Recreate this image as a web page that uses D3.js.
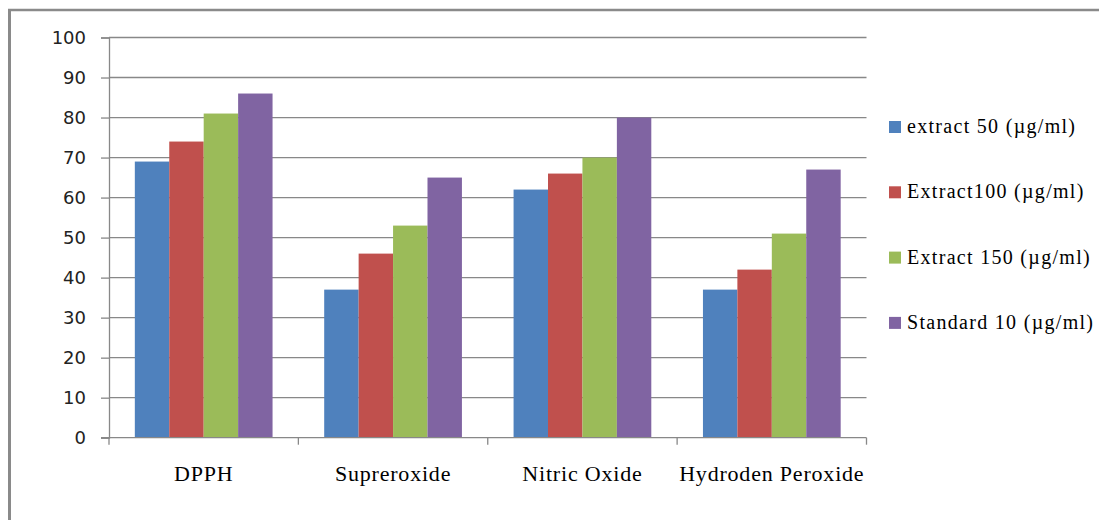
<!DOCTYPE html>
<html><head><meta charset="utf-8">
<script src="https://cdn.jsdelivr.net/npm/d3@7"></script>
<style>body{margin:0;background:#fff}svg{display:block}</style>
</head><body>
<svg id="c" width="1099" height="520"></svg>
<script>
const categories = ["DPPH", "Supreroxide", "Nitric Oxide", "Hydroden Peroxide"];
const seriesNames = ["extract 50 (\u00b5g/ml)", "Extract100 (\u00b5g/ml)", "Extract 150 (\u00b5g/ml)", "Standard 10 (\u00b5g/ml)"];
const extract50 = [69, 37, 62, 37];
const extract100 = [74, 46, 66, 42];
const extract150 = [81, 53, 70, 51];
const standard10 = [86, 65, 80, 67];
const yTicks = [0, 10, 20, 30, 40, 50, 60, 70, 80, 90, 100];
const colors = ["#4F81BD", "#C0504D", "#9BBB59", "#8064A2"];
const series = [extract50, extract100, extract150, standard10];

const svg = d3.select("#c");
const pLeft = 109, pRight = 866.5, pTop = 37.5, pBottom = 437.7;

// outer border
svg.append("line").attr("x1", 9.5).attr("x2", 9.5).attr("y1", 9).attr("y2", 520)
  .attr("stroke", "#8a8a8a").attr("stroke-width", 3);
svg.append("line").attr("x1", 8).attr("x2", 1099).attr("y1", 10).attr("y2", 10)
  .attr("stroke", "#8a8a8a").attr("stroke-width", 2.5);

const y = d3.scaleLinear().domain([0, 100]).range([pBottom, pTop]);
const x0 = d3.scaleBand().domain(categories).range([pLeft, pRight]).padding(0);
const bw = x0.bandwidth() / 5.5;
const x1 = d3.scaleBand().domain(d3.range(4)).range([(x0.bandwidth() - 4 * bw) / 2, (x0.bandwidth() + 4 * bw) / 2]).padding(0);

// gridlines
svg.append("g").selectAll("line").data(yTicks.filter(d => d > 0)).join("line")
  .attr("x1", pLeft).attr("x2", pRight)
  .attr("y1", d => y(d)).attr("y2", d => y(d))
  .attr("stroke", "#888").attr("stroke-width", 1.3);

// y axis
const yAxis = svg.append("g").attr("transform", `translate(${pLeft},0)`)
  .call(d3.axisLeft(y).tickValues(yTicks).tickSize(8).tickPadding(15));
yAxis.select(".domain").attr("stroke", "#888").attr("stroke-width", 1.3);
yAxis.selectAll(".tick line").attr("stroke", "#888").attr("stroke-width", 1.3);
yAxis.selectAll(".tick text").attr("font-family", "DejaVu Sans").attr("font-size", 18).attr("fill", "#222");

// bars
const groups = svg.append("g").selectAll("g").data(categories).join("g")
  .attr("transform", d => `translate(${x0(d)},0)`);
groups.selectAll("rect").data((d, i) => series.map((s, j) => ({ v: s[i], j }))).join("rect")
  .attr("x", d => x1(d.j)).attr("width", x1.bandwidth())
  .attr("y", d => y(d.v)).attr("height", d => pBottom - y(d.v))
  .attr("fill", d => colors[d.j]);

// x axis
svg.append("line").attr("x1", pLeft - 8).attr("x2", pRight).attr("y1", pBottom).attr("y2", pBottom)
  .attr("stroke", "#888").attr("stroke-width", 1.3);
const bounds = categories.map(c => x0(c)).concat([pRight]);
svg.append("g").selectAll("line").data(bounds).join("line")
  .attr("x1", d => d).attr("x2", d => d).attr("y1", pBottom).attr("y2", pBottom + 7)
  .attr("stroke", "#888").attr("stroke-width", 1.3);
svg.append("g").selectAll("text").data(categories).join("text")
  .attr("x", d => x0(d) + x0.bandwidth() / 2).attr("y", 481)
  .attr("text-anchor", "middle")
  .attr("font-family", "Liberation Serif").attr("font-size", 22).attr("letter-spacing", 0.8)
  .attr("fill", "#000").text(d => d);

// legend
const lg = svg.append("g").selectAll("g").data(seriesNames).join("g")
  .attr("transform", (d, i) => `translate(889,${121 + i * 65.3})`);
lg.append("rect").attr("width", 12).attr("height", 12).attr("fill", (d, i) => colors[i]);
lg.append("text").attr("x", 18).attr("y", 12)
  .attr("font-family", "Liberation Serif").attr("font-size", 20).attr("letter-spacing", 1.3)
  .attr("fill", "#000").text(d => d);
</script>
</body></html>
